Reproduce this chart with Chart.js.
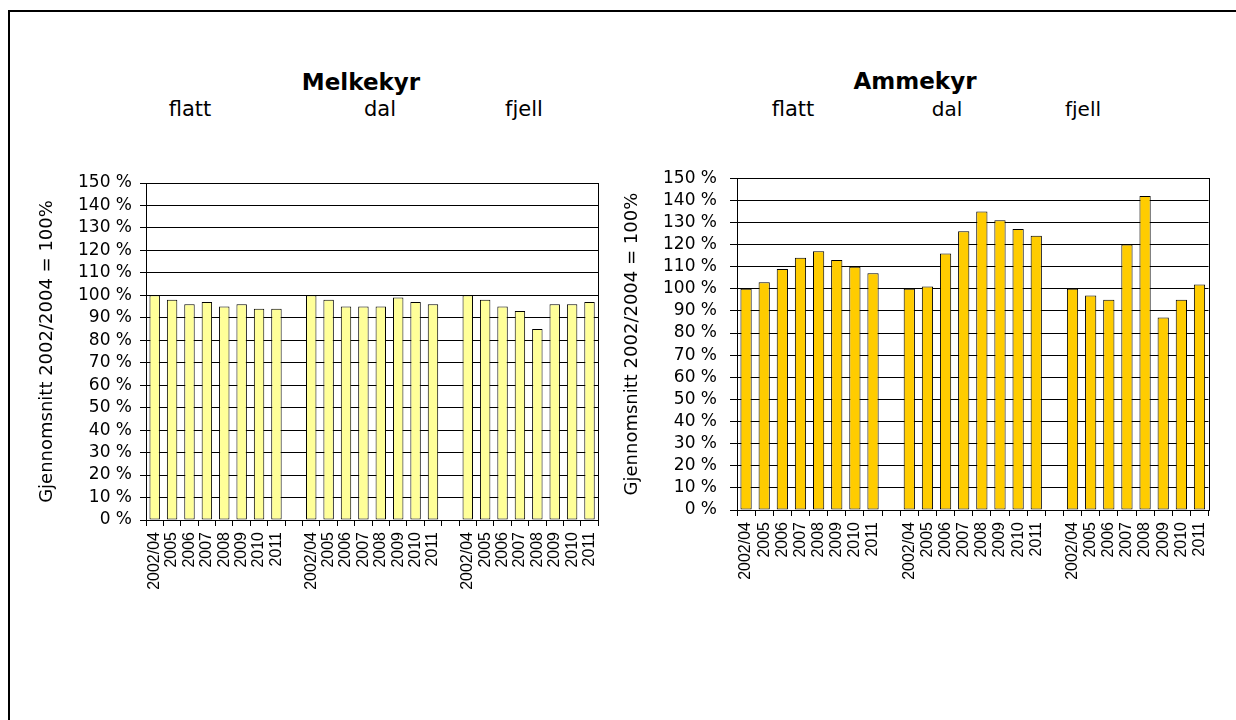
<!DOCTYPE html>
<html>
<head>
<meta charset="utf-8">
<script src="https://cdn.jsdelivr.net/npm/chart.js@4/dist/chart.umd.min.js"></script>
<style>
  body { margin: 0; background: #fff; }
  #page { position: relative; width: 1236px; height: 720px; overflow: hidden; background: #fff; font-family: "DejaVu Sans", sans-serif; color: #000; }
  #frame { position: absolute; left: 8px; top: 10px; width: 1300px; height: 800px; border-top: 2px solid #000; border-left: 2px solid #000; }
  .head { position: absolute; line-height: 1; white-space: nowrap; transform: translateX(-50%); }
  .title { font-weight: bold; font-size: 23px; }
  .sub { font-size: 21px; }
  .box { position: absolute; }
</style>
</head>
<body>
<div id="page">
  <div id="frame"></div>

  <div class="head title" style="left:361px; top:71px">Melkekyr</div>
  <div class="head sub" style="left:190px; top:99px">flatt</div>
  <div class="head sub" style="left:380px; top:99px">dal</div>
  <div class="head sub" style="left:524px; top:99px">fjell</div>

  <div class="head title" style="left:915px; top:70px">Ammekyr</div>
  <div class="head sub" style="left:793px; top:99px">flatt</div>
  <div class="head sub" style="left:947px; top:99px; font-size:20px">dal</div>
  <div class="head sub" style="left:1083px; top:99px; font-size:20px">fjell</div>

  <div class="box" style="left:20px; top:160px"><canvas id="melk" width="595" height="450"></canvas></div>
  <div class="box" style="left:615px; top:155px"><canvas id="amme" width="610" height="455"></canvas></div>
</div>

<script>
// år per gruppe, med en tom kategori mellom gruppene
const years = ["2002/04", "2005", "2006", "2007", "2008", "2009", "2010", "2011"];
const categories = [...years, "", ...years, "", ...years];

// Melkekyr, prosent av snitt 2002/2004
const melkFlatt = [100, 98, 96, 97, 95, 96, 94, 94];
const melkDal = [100, 98, 95, 95, 95, 99, 97, 96];
const melkFjell = [100, 98, 95, 93, 85, 96, 96, 97];

// Ammekyr
const ammeFlatt = [100, 103, 109, 114, 117, 113, 110, 107];
const ammeDal = [100, 101, 116, 126, 135, 131, 127, 124];
const ammeFjell = [100, 97, 95, 120, 142, 87, 95, 102];

const yTicks = { min: 0, max: 150, step: 10 };
const yTitle = "Gjennomsnitt 2002/2004 = 100%";

Chart.defaults.font.family = "DejaVu Sans";
Chart.defaults.color = "#000";

// ramme rundt plottet (topp og høyre side)
const plotFrame = {
  id: "plotFrame",
  afterDraw: (chart) => {
    const { ctx, chartArea: a } = chart;
    ctx.save();
    ctx.strokeStyle = "#000";
    ctx.lineWidth = 1;
    ctx.strokeRect(
      Math.round(a.left) + 0.5,
      Math.round(a.top) + 0.5,
      Math.round(a.right - a.left),
      Math.round(a.bottom - a.top)
    );
    ctx.restore();
  },
};

const joinGroups = (a, b, c) => [...a, null, ...b, null, ...c];

const makeChart = (id, values, fill, g) => {
  return new Chart(document.getElementById(id), {
    type: "bar",
    plugins: [plotFrame],
    data: {
      labels: categories,
      datasets: [
        {
          data: values,
          backgroundColor: fill,
          borderColor: "#000",
          borderWidth: 1,
          borderSkipped: false,
          barPercentage: 1,
          categoryPercentage: g.barShare,
        },
      ],
    },
    options: {
      responsive: false,
      animation: false,
      layout: {
        padding: { left: g.padLeft, top: 23, right: g.padRight, bottom: 0 },
      },
      plugins: {
        legend: { display: false },
        tooltip: { enabled: false },
      },
      scales: {
        x: {
          offset: true,
          border: { color: "#000" },
          grid: {
            offset: true,
            drawOnChartArea: false,
            color: "#000",
            tickLength: 6,
          },
          ticks: {
            autoSkip: false,
            minRotation: 90,
            maxRotation: 90,
            padding: 6,
            font: { family: "Liberation Sans", size: 16 },
          },
          afterFit: (scale) => {
            scale.height = g.xHeight;
          },
        },
        y: {
          min: yTicks.min,
          max: yTicks.max,
          border: { color: "#000" },
          grid: { color: "#000", tickLength: g.tickLen },
          ticks: {
            stepSize: yTicks.step,
            autoSkip: false,
            padding: g.tickPad,
            font: { size: 17 },
            callback: (v) => v + " %",
          },
          title: {
            display: true,
            text: yTitle,
            padding: 0,
            font: { size: 18 },
          },
          afterFit: (scale) => {
            scale.width = g.yWidth;
          },
        },
      },
    },
  });
};

makeChart("melk", joinGroups(melkFlatt, melkDal, melkFjell), "#FFFF99", {
  padLeft: 17,
  padRight: 15,
  yWidth: 109,
  xHeight: 90,
  tickLen: 6,
  tickPad: 8,
  barShare: 0.6,
});

makeChart("amme", joinGroups(ammeFlatt, ammeDal, ammeFjell), "#FFCC00", {
  padLeft: 7,
  padRight: 16,
  yWidth: 115,
  xHeight: 100,
  tickLen: 7,
  tickPad: 13,
  barShare: 0.62,
});
</script>
</body>
</html>
